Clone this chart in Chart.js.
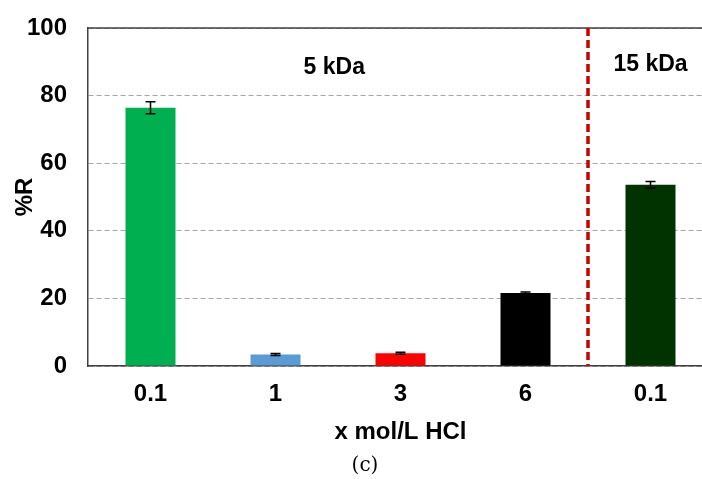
<!DOCTYPE html>
<html>
<head>
<meta charset="utf-8">
<script src="https://cdn.jsdelivr.net/npm/chart.js@4"></script>
<style>
  html, body { margin: 0; padding: 0; background: #fff; overflow: hidden; }
  #wrap { position: relative; width: 725px; height: 479px; }
  #caption {
    position: absolute; left: 365px; top: 452px; transform: translateX(-50%);
    font-family: "DejaVu Serif", serif; font-size: 20px; color: #000;
  }
</style>
</head>
<body>
<div id="wrap">
  <canvas id="hclChart" width="725" height="479"></canvas>
  <div id="caption">(c)</div>
</div>
<script>
// HCl concentration groups (first four 5 kDa membrane, last one 15 kDa)
const labels = ['0.1', '1', '3', '6', '0.1'];
const retention = [76.4, 3.4, 3.8, 21.6, 53.6];
const errors = [1.8, 0.3, 0.3, 0.3, 1.0];
const barColors = ['#00B050', '#5B9BD5', '#FF0000', '#000000', '#003300'];
const yTicks = [0, 20, 40, 60, 80, 100];
const groupNames = [
  { text: '5 kDa', at: 1.47, y: 88.4 },
  { text: '15 kDa', at: 4, y: 89.2 }
];
const splitAt = 3.5;

const boldFont = { family: 'Liberation Sans, Arial, sans-serif', size: 24, weight: 'bold' };

// error bars, membrane divider, group names and top frame line
const extras = {
  id: 'extras',
  afterDatasetsDraw(chart) {
    const ctx = chart.ctx;
    const x = chart.scales.x, y = chart.scales.y;
    const area = chart.chartArea;
    ctx.save();

    // error bars
    ctx.strokeStyle = '#000';
    ctx.lineWidth = 1.5;
    retention.forEach((v, i) => {
      const px = x.getPixelForValue(i);
      const top = y.getPixelForValue(v + errors[i]);
      const bot = y.getPixelForValue(v - errors[i]);
      ctx.beginPath();
      ctx.moveTo(px, top); ctx.lineTo(px, bot);
      ctx.moveTo(px - 5, top); ctx.lineTo(px + 5, top);
      ctx.moveTo(px - 5, bot); ctx.lineTo(px + 5, bot);
      ctx.stroke();
    });

    // top frame
    ctx.strokeStyle = '#404040';
    ctx.lineWidth = 1.5;
    ctx.beginPath();
    ctx.moveTo(area.left, area.top); ctx.lineTo(area.right, area.top);
    ctx.stroke();

    // red dashed divider between 5 kDa and 15 kDa groups
    const dx = x.getPixelForValue(splitAt);
    ctx.strokeStyle = '#CC0000';
    ctx.lineWidth = 3.5;
    ctx.setLineDash([8, 4]);
    ctx.beginPath();
    ctx.moveTo(dx, area.top); ctx.lineTo(dx, area.bottom);
    ctx.stroke();
    ctx.setLineDash([]);

    // group names
    ctx.fillStyle = '#000';
    ctx.font = 'bold 23px "Liberation Sans", Arial, sans-serif';
    ctx.textAlign = 'center';
    ctx.textBaseline = 'middle';
    groupNames.forEach(g => {
      ctx.fillText(g.text, x.getPixelForValue(g.at), y.getPixelForValue(g.y));
    });
    ctx.restore();
  }
};

new Chart(document.getElementById('hclChart'), {
  type: 'bar',
  data: {
    labels: labels,
    datasets: [{
      data: retention,
      backgroundColor: barColors,
      borderWidth: 0,
      barPercentage: 0.4,
      categoryPercentage: 1
    }]
  },
  options: {
    responsive: false,
    animation: false,
    layout: { padding: { top: 28, right: 12, bottom: 30, left: 0 } },
    plugins: { legend: { display: false }, tooltip: { enabled: false } },
    scales: {
      x: {
        afterFit: s => { s.height = 83; },
        grid: { display: false, drawTicks: false },
        border: { display: true, color: '#404040', width: 1.5 },
        ticks: { color: '#000', font: boldFont, padding: 14 },
        title: {
          display: true, text: 'x mol/L HCl', color: '#000',
          font: boldFont, padding: { top: 0, bottom: 2 }
        }
      },
      y: {
        min: 0, max: 100,
        afterFit: s => { s.width = 88; s.paddingTop = 0; s.paddingBottom = 0; },
        afterBuildTicks: s => { s.ticks = yTicks.map(v => ({ value: v })); },
        grid: { color: '#A6A6A6', lineWidth: 1, drawTicks: false },
        border: { display: true, color: '#404040', width: 1.5, dash: [5, 3] },
        ticks: { color: '#000', font: boldFont, padding: 21 },
        title: {
          display: true, text: '%R', color: '#000',
          font: { family: 'Liberation Sans, Arial, sans-serif', size: 24, weight: 'bold' },
          padding: { top: 11, bottom: 0 }
        }
      }
    }
  },
  plugins: [extras]
});
</script>
</body>
</html>
